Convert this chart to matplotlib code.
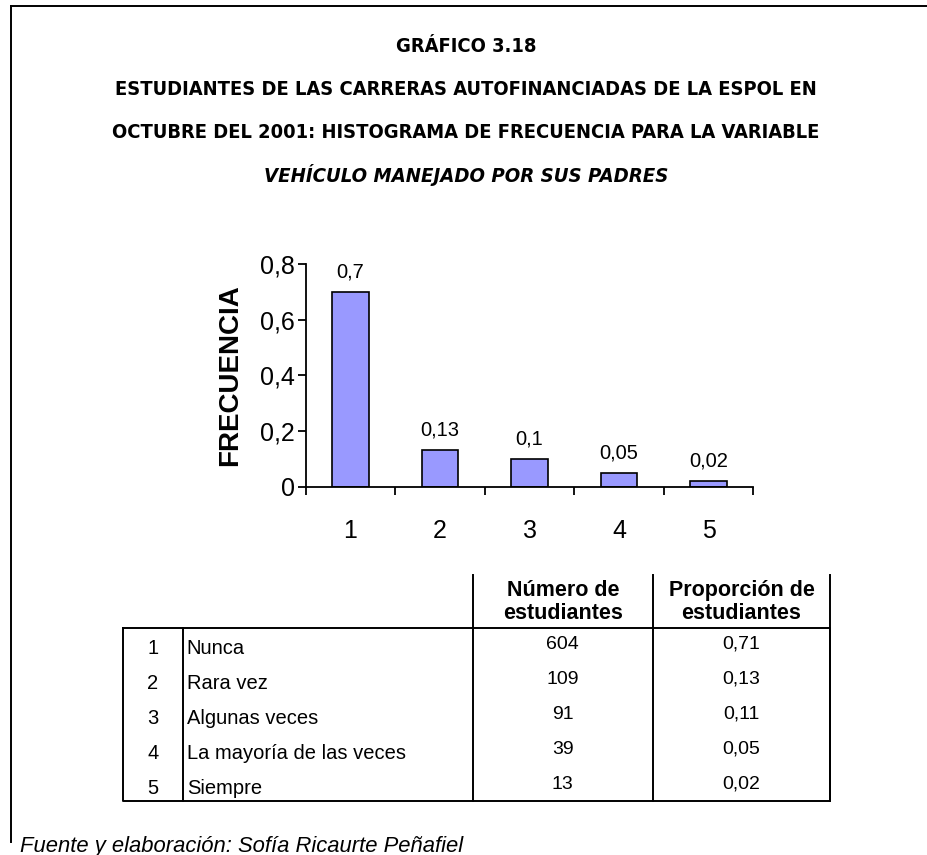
import matplotlib
matplotlib.use("Agg")
import matplotlib.pyplot as plt
from matplotlib import font_manager
from matplotlib.font_manager import FontProperties
from matplotlib.ticker import FixedLocator, NullFormatter

# data
categorias = [1, 2, 3, 4, 5]
frecuencia = [0.70, 0.13, 0.10, 0.05, 0.02]
etiquetas_barras = ["0,7", "0,13", "0,1", "0,05", "0,02"]
y_ticks = [0, 0.2, 0.4, 0.6, 0.8]
y_tick_labels = ["0", "0,2", "0,4", "0,6", "0,8"]

respuestas = ["Nunca", "Rara vez", "Algunas veces", "La mayoría de las veces", "Siempre"]
num_estudiantes = [604, 109, 91, 39, 13]
proporcion = ["0,71", "0,13", "0,11", "0,05", "0,02"]

titulo = [
    "GRÁFICO 3.18",
    "ESTUDIANTES DE LAS CARRERAS AUTOFINANCIADAS DE LA ESPOL EN",
    "OCTUBRE DEL 2001: HISTOGRAMA DE FRECUENCIA PARA LA VARIABLE",
]
subtitulo = "VEHÍCULO MANEJADO POR SUS PADRES"
fuente = "Fuente y elaboración: Sofía Ricaurte Peñafiel"

installed = {f.name for f in font_manager.fontManager.ttflist}
SANS = "Liberation Sans" if "Liberation Sans" in installed else "DejaVu Sans"
plt.rcParams["font.family"] = [SANS, "DejaVu Sans"]


def narrow_font(italic=False):
    # look for a condensed bold face, the title in the original is Arial Narrow
    best = None
    for f in font_manager.fontManager.ttflist:
        cond = ("Narrow" in f.name or "Condensed" in f.name
                or str(f.stretch) in ("condensed", "semi-condensed", "extra-condensed"))
        if not cond:
            continue
        w = f.weight if isinstance(f.weight, int) else 700 if "bold" in str(f.weight) else 400
        if w < 600:
            continue
        if (f.style == "italic" or f.style == "oblique") != italic:
            continue
        if "Liberation" in f.name or best is None:
            best = f
    if best is None:
        return FontProperties(family=SANS, weight="bold", style="italic" if italic else "normal")
    return FontProperties(fname=best.fname)


W, H = 928, 855
fig = plt.figure(figsize=(W / 100, H / 100), dpi=100)

# overlay in pixel coordinates for frame, titles and table
ov = fig.add_axes([0, 0, 1, 1])
ov.set_xlim(0, W)
ov.set_ylim(H, 0)
ov.axis("off")

ov.plot([11.5, 11.5], [6, 842], color="black", lw=1.4)
ov.plot([11.5, W], [6, 6], color="black", lw=1.4)

fp = narrow_font()
fpi = narrow_font(italic=True)
fp.set_size(14.4)
fpi.set_size(14.6)
for i, line in enumerate(titulo):
    ov.text(466, 47 + i * 42.7, line, ha="center", va="center", fontproperties=fp)
ov.text(466, 175, subtitulo, ha="center", va="center", fontproperties=fpi)

# histogram
ax = fig.add_axes([305.7 / W, 1 - 486.7 / H, 447.6 / W, 222.8 / H])
ax.bar(categorias, frecuencia, width=0.41, color="#9999FF",
       edgecolor="black", linewidth=1.2, zorder=2)
for x, v, s in zip(categorias, frecuencia, etiquetas_barras):
    ax.annotate(s, (x, v), xytext=(0, 14.5), textcoords="offset points",
                ha="center", va="center", fontsize=14.5)
ax.set_xlim(0.5, 5.5)
ax.set_ylim(0, 0.8)
ax.set_yticks(y_ticks)
ax.set_yticklabels(y_tick_labels, fontsize=18)
ax.xaxis.set_major_locator(FixedLocator([c - 0.5 for c in categorias] + [categorias[-1] + 0.5]))
ax.xaxis.set_major_formatter(NullFormatter())
ax.xaxis.set_minor_locator(FixedLocator(categorias))
ax.set_xticklabels([str(c) for c in categorias], minor=True, fontsize=18)
ax.tick_params(axis="x", which="major", direction="out", length=6, width=1.3)
ax.tick_params(axis="x", which="minor", length=0, pad=23)
ax.tick_params(axis="y", direction="out", length=6, width=1.3, pad=2)
for side in ("top", "right"):
    ax.spines[side].set_visible(False)
for side in ("left", "bottom"):
    ax.spines[side].set_linewidth(1.3)
ax.set_ylabel("FRECUENCIA", fontsize=20, fontweight="bold", labelpad=12)
ax.set_facecolor("none")

# table
x_l, x_c1, x_c2, x_c3, x_r = 122.7, 182.7, 472.7, 653, 830
y_head, y_top, y_bot = 575, 628, 800.7
lw = 1.4
ov.plot([x_l, x_r, x_r, x_l, x_l], [y_top, y_top, y_bot, y_bot, y_top], color="black", lw=lw)
ov.plot([x_c1, x_c1], [y_top, y_bot], color="black", lw=lw)
for xv in (x_c2, x_c3, x_r):
    ov.plot([xv, xv], [y_head, y_bot], color="black", lw=lw)

ov.text((x_c2 + x_c3) / 2, 602, "Número de\nestudiantes", ha="center", va="center",
        fontsize=15.5, fontweight="bold", linespacing=1.12)
ov.text((x_c3 + x_r) / 2, 602, "Proporción de\nestudiantes", ha="center", va="center",
        fontsize=15.5, fontweight="bold", linespacing=1.12)

for i, (c, r, n, p) in enumerate(zip(categorias, respuestas, num_estudiantes, proporcion)):
    y = 648 + i * 35
    ov.text((x_l + x_c1) / 2, y, str(c), ha="center", va="center", fontsize=14.5)
    ov.text(x_c1 + 4, y, r, ha="left", va="center", fontsize=14.5)
    ov.text((x_c2 + x_c3) / 2, y - 4, str(n), ha="center", va="center", fontsize=14)
    ov.text((x_c3 + x_r) / 2, y - 4, p, ha="center", va="center", fontsize=14)

ov.text(20, 846, fuente, ha="left", va="center", fontsize=15.8, style="italic")

fig.savefig("out.png", dpi=100)
